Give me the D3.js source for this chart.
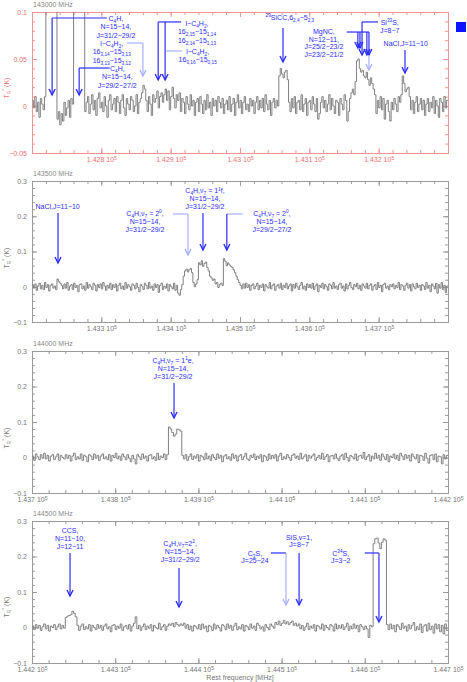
<!DOCTYPE html>
<html>
<head>
<meta charset="utf-8">
<script src="https://cdn.jsdelivr.net/npm/d3@7"></script>
<style>
  body { margin: 0; background: #fff; }
  svg { display: block; font-family: "Liberation Sans", Arial, sans-serif; }
</style>
</head>
<body>
<svg id="chart"></svg>
<script>
// channel width of all spectra (MHz), values in mK
const chanWidth = 2

const spec1Start = 142700
const spec1 = [
  6, -2, 10, -6, 4, -12, 8, 2, -4, 10, 410, 430, 380, 400, 390, 420, 400, 430, -14, -6,
  -20, -8, -16, 4, -10, -2, 6, -12, 8, 2, 390, 410, 370, 380, 400, 380, 410, 420, -6, 4,
  10, -8, 2, 12, -4, 6, -10, 8, 14, -2, 4, -6, 10, 0, -12, 6, 12, -4, 2, 8,
  -6, 10, 4, -8, 6, 12, -2, -10, 8, 2, -4, 10, 6, -6, 0, 12, -8, 4, 8, 14,
  22, 18, 6, -6, 10, 2, -10, 12, 4, 8, 16, -2, 10, 14, 4, 12, 18, 6, 16, -4,
  10, 20, 8, -2, 12, 6, 14, -6, 8, 4, -8, 10, 2, -4, 12, 0, 6, -10, 4, 8,
  -6, 10, 2, -8, 6, -4, 12, -2, 4, -10, 8, 0, 6, -6, 10, 4, -2, 8, -8, 2,
  6, -4, 10, -6, 2, 8, -10, 4, 12, -2, 6, -8, 4, 10, -4, 2, -6, 8, 0, 6,
  -8, 4, 10, -4, 6, -2, 8, -6, 12, 2, -4, 6, -10, 4, 8, -2, 6, 0, 32, 40,
  34, 30, 36, 38, 28, 4, -6, 8, -2, 10, -8, 4, 6, -4, 12, -6, 2, 8, -10, 4,
  6, -4, 10, 2, -6, 8, -14, -8, 4, 10, -2, 6, -6, 2, 12, -4, 8, 0, -8, 6,
  4, -10, 8, 2, -4, 12, 6, -16, -6, 8, 14, 18, 12, 26, 48, 50, 40, 36, 38, 32,
  30, 36, 28, 22, 30, 24, 18, 12, -8, 6, -2, 10, -4, 8, -14, 2, 6, -6, -16, 4,
  -4, 8, 2, -6, 10, 4, 12, 32, 24, 15, 18, 20, 10, -4, 6, -8, 4, 10, -6, 2,
  8, -4, 6, -10, 2, 8, -6, 4, -2, 10, -8, 6, 0, -12, 8, 4, -6, 10, -2, 6
]

const spec2Start = 143200
const spec2 = [
  6, -4, 8, -10, 2, 10, -6, 4, -8, 12, -2, 6, -12, 4, 8, -4, 2, -8, 22, 14,
  10, 4, -6, 8, -4, 12, -10, 2, 6, -8, 10, -2, 4, -14, 6, 8, -6, 2, -10, 12,
  -4, 6, 0, -8, 10, 4, -12, 6, -2, 8, -6, 12, 2, -10, 4, -4, 10, -8, 6, -2,
  8, -12, 4, 10, -6, 2, -8, 12, -4, 6, 0, -10, 8, 4, -6, 10, -2, -14, 6, 2,
  -8, 10, 4, -6, 12, -4, 2, -10, 8, -2, 6, -16, 4, 10, -8, 2, -4, 8, -12, 6,
  0, -6, 10, -10, 4, -18, -24, -8, 6, 30, 45, 50, 42, 48, 52, 40, 12, 0, 8, 20,
  68, 62, 74, 58, 66, 70, 55, 45, 30, 25, 18, 22, 8, 12, -2, 6, 10, 4, 80, 72,
  60, 68, 62, 58, 55, 48, 40, 30, 20, 12, 4, -6, 8, -4, 10, -2, 6, -10, 4, 8,
  -6, 2, 10, -8, 4, -2, 8, -12, 6, 0, -4, 12, -6, 4, 8, -10, 2, 6, -4, 10,
  -8, 4, -2, 10, -6, 2, 8, -12, 6, -4, 10, 0, -8, 4, 12, -6, 2, -10, 8, -2,
  6, -4, 10, -8, 2, 8, -14, 4, -2, 10, -6, 6, 0, -10, 8, 4, -6, 12, -4, 2,
  -8, 6, 10, -4, 2, -12, 8, -6, 4, 12, -2, -8, 6, 0, 10, -6, 4, -10, 8, 2,
  -4, 10, -6, 4, 8, -10, 2, 6, -8, 12, -2, 4, -14, 6, 10, -4, 2, -8, 6, 0,
  8, -6, 4, -2, 12, -8, 6, 2, -10, 4, 10, -4, 6, -12, 8, 0, -6, 10, -2, 4,
  -10, 6, 2, -8, 12, -4, 4, -14, 8, 2, -6, 10, -18, 6, -4, 12, -8, 4, -16, 2
]

const spec3Start = 143700
const spec3 = [
  4, -8, 10, 2, -6, 8, -2, 12, -4, 6, -10, 4, 8, -6, 2, 10, -8, 6, 0, -4,
  8, -2, 6, -10, 4, 12, -6, 2, -4, 10, -8, 6, 2, -12, 8, 4, -6, 10, -2, 6,
  -8, 4, 10, -4, 2, -6, 8, -10, 6, 0, 12, -4, 4, -8, 10, 2, -6, 8, -2, -12,
  6, -4, -18, 8, 2, -6, 10, -2, 4, -10, 6, 8, -4, 2, -8, 12, -6, 4, 0, 10,
  -6, 8, 86, 80, 70, 60, 66, 80, 78, 74, 6, -4, 8, -8, 2, 10, -6, 4, -2, 8,
  -10, 6, 2, -6, 12, -4, 4, -8, 8, 0, -6, 10, -2, 6, -12, 4, 8, -4, 2, -8,
  10, -2, 6, -10, 4, 8, -6, 2, 12, -4, -8, 6, 0, 10, -6, 4, -2, 8, -12, 6,
  2, -8, 10, -4, 6, -2, 8, -10, 4, 12, -6, 2, -4, 8, 0, -8, 6, 10, -2, 4,
  -6, 12, -4, 2, 8, -10, 6, -2, 4, 10, -8, 0, 6, -4, 12, -6, 2, 8, -12, 4,
  6, -4, 10, -2, -8, 4, 8, -6, 12, 0, -10, 6, 2, -4, 10, -8, 4, 6, -2, 14,
  -6, 2, 8, -10, 4, -4, 12, -2, 6, -8, 10, 2, -6, 8, -12, 4, 0, 10, -4, 6,
  -8, 12, 4, -6, 8, -2, 6, -10, 10, 2, -4, 8, -14, 6, 4, -8, 12, -2, -16, 6,
  8, -6, 10, -12, 4, 2, -18, 8, -4, 6
]

const spec4Start = 144200
const spec4 = [
  4, -6, 8, -2, 6, -8, 2, 10, -4, 6, -10, 4, 0, 8, -6, 2, 10, -4, 6, -2,
  28, 32, 34, 36, 46, 40, 30, 6, -8, 4, 10, -6, 2, -4, 8, -10, 6, 0, -6, 8,
  -2, 6, -8, 4, 10, -4, 2, -12, 6, 8, -6, 4, -2, 10, -8, 2, 6, -4, 8, -10,
  4, 12, 30, -4, 6, -8, 2, 10, -6, 4, -2, 8, -10, 6, 0, -4, 12, -6, 2, 8,
  -8, 4, 10, 6, 12, 2, 14, 8, 4, 10, 6, 12, -2, 8, -6, 4, -10, 6, 2, -4,
  8, -6, 10, -2, 4, -12, 6, 2, -8, 10, -4, 6, 0, -10, 8, 4, -6, 10, -2, 6,
  -8, 4, 12, -6, 2, -4, 8, -10, 6, 2, -6, 10, -2, 4, -8, 12, 6, -4, 2, -10,
  8, 0, -6, 10, 4, -2, 14, 8, 18, 6, 12, 20, 10, 16, 8, 14, 18, 6, 12, 4,
  10, -4, 6, -8, 2, 12, -6, 4, -2, 8, -10, 6, 2, -4, 10, -8, 6, 0, -6, 8,
  4, -10, 10, -4, 6, -2, 8, -6, 2, 12, -8, 4, -4, 10, -2, 6, -12, 8, 2, -6,
  4, -4, -28, 6, 2, 236, 250, 252, 238, 222, 240, 250, 246, 8, -6, 10, -4, 6, -12, 8,
  2, -6, 12, -2, 4, -10, 8, -4, 6, 14, -8, 2, -6, 10, -14, 4, 8, -10, 12, -6,
  4, -16, 10, -4, 8, -12, 6, -18, 10, -8
]

// panel headers and axis ticks
const panelTitles = ['143000 MHz', '143500 MHz', '144000 MHz', '144500 MHz']
const xTicks1 = [142800, 142900, 143000, 143100, 143200]
const xTicks2 = [143300, 143400, 143500, 143600, 143700]
const xTicks3 = [143700, 143800, 143900, 144000, 144100, 144200]
const xTicks4 = [144200, 144300, 144400, 144500, 144600, 144700]
const yTicks1 = [-0.05, 0, 0.05, 0.1]
const yTicks = [-0.1, 0, 0.1, 0.2, 0.3]

// line identifications: text, label anchor [MHz, K], leaders [f0, f1, K, light], arrows [f, K from, K to, light]
const lines1 = [
  { text: ['C_{4}H,', 'N=15−14,', 'J=31/2−29/2'], at: [142821, 0.0904],
    lead: [[142729, 142808, 0.0936]], arrows: [[142729, 0.0936, 0.0117]] },
  { text: ['l−C_{4}H_{2},', '16_{3,14}−15_{3,13}', '16_{3,13}−15_{3,12}'], at: [142815, 0.0638],
    lead: [[142837, 142860, 0.067, 1]], arrows: [[142860, 0.067, 0.0319, 1]] },
  { text: ['C_{4}H,', 'N=15−14,', 'J=29/2−27/2'], at: [142823, 0.0372],
    lead: [[142768, 142812, 0.0404]], arrows: [[142768, 0.0404, 0.0117]] },
  { text: ['l−C_{4}H_{2},', '16_{2,15}−15_{1,14}', '16_{2,14}−15_{1,13}'], at: [142938, 0.0851],
    lead: [[142882, 142915, 0.0894]], arrows: [[142882, 0.0894, 0.0277], [142892, 0.0894, 0.0277]] },
  { text: ['l−C_{4}H_{2},', '16_{0,16}−15_{0,15}'], at: [142939, 0.0553],
    lead: [[142893, 142916, 0.0585, 1]], arrows: [] },
  { text: ['^{29}SiCC,6_{2,4}−5_{2,3}'], at: [143072, 0.0915],
    lead: [], arrows: [[143062, 0.083, 0.0468]] },
  { text: ['MgNC,', 'N=12−11,', 'J=25/2−23/2', 'J=23/2−21/2'], at: [143121, 0.0765], lh: 7.6,
    lead: [[143154, 143186, 0.0787]],
    arrows: [[143170, 0.0787, 0.0617], [143173, 0.0787, 0.0617], [143183, 0.0787, 0.0543], [143186, 0.0787, 0.0543]] },
  { text: ['Si^{33}S,', 'J=8−7'], at: [143216, 0.0862],
    lead: [[143176, 143199, 0.0894]], arrows: [[143176, 0.0894, 0.0543], [143186, 0.0543, 0.0383, 1]] },
  { text: ['NaCl,J=11−10'], at: [143239, 0.0638],
    lead: [], arrows: [[143238, 0.0596, 0.0351]] }
]
const lines2 = [
  { text: ['NaCl,J=11−10'], at: [143237, 0.2206], lead: [], arrows: [[143237.5, 0.2092, 0.0674]] },
  { text: ['C_{4}H,ν_{7} = 2^{0},', 'N=15−14,', 'J=31/2−29/2'], at: [143363, 0.1995],
    lead: [[143403, 143425, 0.2064, 1]], arrows: [[143425, 0.2064, 0.0901, 1]] },
  { text: ['C_{4}H,ν_{7} = 1^{1}f,', 'N=15−14,', 'J=31/2−29/2'], at: [143449.5, 0.2647],
    lead: [], arrows: [[143446.6, 0.2092, 0.1043]] },
  { text: ['C_{4}H,ν_{7} = 2^{0},', 'N=15−14,', 'J=29/2−27/2'], at: [143546, 0.1995],
    lead: [[143481, 143504, 0.2064, 1]], arrows: [[143481, 0.2064, 0.1043]] }
]
const lines3 = [
  { text: ['C_{4}H,ν_{7} = 1^{1}e,', 'N=15−14,', 'J=31/2−29/2'], at: [143869.5, 0.265],
    lead: [], arrows: [[143870.7, 0.2099, 0.1113]] }
]
const lines4 = [
  { text: ['CCS,', 'N=11−10,', 'J=12−11'], at: [144245.7, 0.265], lead: [], arrows: [[144245.7, 0.2099, 0.0887]] },
  { text: ['C_{4}H,ν_{7}=2^{2},', 'N=15−14,', 'J=31/2−29/2'], at: [144378, 0.2284], lead: [], arrows: [[144376.7, 0.1676, 0.0577]] },
  { text: ['C_{3}S,', 'J=25−24'], at: [144468, 0.2025],
    lead: [[144487, 144505.3, 0.2099]], arrows: [[144505.3, 0.2099, 0.0634, 1]] },
  { text: ['SiS,v=1,', 'J=8−7'], at: [144521, 0.2475], lead: [], arrows: [[144521, 0.2099, 0.0634]] },
  { text: ['C^{34}S,', 'J=3−2'], at: [144571, 0.2025],
    lead: [[144600, 144617, 0.2099]], arrows: [[144617, 0.2099, 0.0155]] }
]

const width = 467
const height = 682
const left = 32
const right = 448
const blue = '#2c2cff'
const lightBlue = '#a9b0ff'
const fs = 7

const panels = [
  { top: 12, bottom: 153, start: spec1Start, vals: spec1, xDom: [142700, 143300], yDom: [-0.05, 0.1],
    xTicks: xTicks1, yTicks: yTicks1, yMinor: 0.01, axis: '#f29292', label: '#ee7070', ids: lines1, lh: 8.4, yl: 88 },
  { top: 181, bottom: 322, start: spec2Start, vals: spec2, xDom: [143200, 143800], yDom: [-0.1, 0.3],
    xTicks: xTicks2, yTicks: yTicks, yMinor: 0.02, axis: '#9a9a9a', label: '#777', ids: lines2, lh: 7.8, yl: 258 },
  { top: 351, bottom: 493, start: spec3Start, vals: spec3, xDom: [143700, 144200], yDom: [-0.1, 0.3],
    xTicks: xTicks3, yTicks: yTicks, yMinor: 0.02, axis: '#9a9a9a', label: '#777', ids: lines3, lh: 7.8, yl: 438 },
  { top: 521, bottom: 663, start: spec4Start, vals: spec4, xDom: [144200, 144700], yDom: [-0.1, 0.3],
    xTicks: xTicks4, yTicks: yTicks, yMinor: 0.02, axis: '#9a9a9a', label: '#777', ids: lines4, lh: 7.8, yl: 607 }
]

const svg = d3.select('#chart')
  .attr('width', width)
  .attr('height', height)

// text with _{sub} and ^{sup} markup
function rich(t, str, size) {
  const re = /([_^])\{([^}]*)\}/g
  const parts = []
  let last = 0, m
  while ((m = re.exec(str))) {
    if (m.index > last) parts.push({ t: str.slice(last, m.index), s: 0 })
    parts.push({ t: m[2], s: m[1] === '_' ? 1 : -1 })
    last = re.lastIndex
  }
  if (last < str.length) parts.push({ t: str.slice(last), s: 0 })
  let cur = 0
  parts.forEach(p => {
    const off = p.s > 0 ? size * 0.28 : p.s < 0 ? -size * 0.42 : 0
    t.append('tspan')
      .attr('dy', off - cur)
      .attr('font-size', p.s ? size * 0.68 : size)
      .text(p.t)
    cur = off
  })
}

const fmtY = d => String(d).replace('-', '−')

panels.forEach((p, k) => {
  const x = d3.scaleLinear().domain(p.xDom).range([left, right])
  const y = d3.scaleLinear().domain(p.yDom).range([p.bottom, p.top])

  const xMinor = d3.range(p.xDom[0], p.xDom[1] + 1, 20)
  const n = Math.round((p.yDom[1] - p.yDom[0]) / p.yMinor)
  const yMinor = d3.range(n + 1).map(i => p.yDom[0] + i * p.yMinor)

  const style = (g) => {
    g.select('.domain').remove()
    g.selectAll('line').attr('stroke', p.axis)
    g.selectAll('text').attr('fill', p.label).attr('font-size', 7).attr('font-family', null)
  }

  svg.append('g').attr('transform', `translate(0,${p.bottom})`)
    .call(d3.axisBottom(x).tickValues(xMinor).tickSize(-3).tickFormat('')).call(style)
  svg.append('g').attr('transform', `translate(0,${p.top})`)
    .call(d3.axisTop(x).tickValues(xMinor).tickSize(-3).tickFormat('')).call(style)
  svg.append('g').attr('transform', `translate(0,${p.top})`)
    .call(d3.axisTop(x).tickValues(p.xTicks).tickSize(-5).tickFormat('')).call(style)
  const xa = svg.append('g').attr('transform', `translate(0,${p.bottom})`)
    .call(d3.axisBottom(x).tickValues(p.xTicks).tickSize(-5).tickPadding(4)).call(style)
  xa.selectAll('.tick text').each(function(d) {
    const t = d3.select(this)
    t.text(null)
    t.append('tspan').text(String(d / 1e5) + ' 10')
    t.append('tspan').attr('dy', '-0.45em').attr('font-size', 5).text('5')
  })

  svg.append('g').attr('transform', `translate(${left},0)`)
    .call(d3.axisLeft(y).tickValues(yMinor).tickSize(-3).tickFormat('')).call(style)
  svg.append('g').attr('transform', `translate(${right},0)`)
    .call(d3.axisRight(y).tickValues(yMinor).tickSize(-3).tickFormat('')).call(style)
  svg.append('g').attr('transform', `translate(${right},0)`)
    .call(d3.axisRight(y).tickValues(p.yTicks).tickSize(-5).tickFormat('')).call(style)
  svg.append('g').attr('transform', `translate(${left},0)`)
    .call(d3.axisLeft(y).tickValues(p.yTicks).tickSize(-5).tickPadding(5).tickFormat(fmtY)).call(style)

  svg.append('rect')
    .attr('x', left + 0.5).attr('y', p.top + 0.5)
    .attr('width', right - left).attr('height', p.bottom - p.top)
    .attr('fill', 'none').attr('stroke', p.axis)

  // spectrum
  svg.append('clipPath').attr('id', 'clip' + k)
    .append('rect')
    .attr('x', left).attr('y', p.top)
    .attr('width', right - left).attr('height', p.bottom - p.top)

  const pts = p.vals.map((v, i) => [p.start + i * chanWidth, v / 1000])
  pts.push([p.start + p.vals.length * chanWidth, p.vals[p.vals.length - 1] / 1000])

  svg.append('path')
    .datum(pts)
    .attr('clip-path', `url(#clip${k})`)
    .attr('d', d3.line().x(d => x(d[0])).y(d => y(d[1])).curve(d3.curveStepAfter))
    .attr('fill', 'none')
    .attr('stroke', '#808080')
    .attr('stroke-width', 1)

  // header and y label
  svg.append('text')
    .attr('x', left + 1).attr('y', p.top - 5)
    .attr('font-size', 7).attr('fill', '#888')
    .text(panelTitles[k])

  const yl = svg.append('text')
    .attr('transform', `translate(9,${p.yl}) rotate(-90)`)
    .attr('text-anchor', 'middle')
    .attr('font-size', 7).attr('fill', p.label)
  rich(yl, 'T_{R}^{*} (K)', 7)

  // identifications
  const ga = svg.append('g')
  p.ids.forEach(a => {
    const lh = a.lh || p.lh
    a.text.forEach((s, j) => {
      const t = ga.append('text')
        .attr('x', x(a.at[0])).attr('y', y(a.at[1]) + j * lh)
        .attr('text-anchor', 'middle')
        .attr('fill', blue)
        .attr('font-size', fs)
      rich(t, s, fs)
    })
    a.lead.forEach(([f0, f1, v, light]) => {
      ga.append('line')
        .attr('x1', x(f0)).attr('x2', x(f1))
        .attr('y1', y(v)).attr('y2', y(v))
        .attr('stroke', light ? lightBlue : blue)
        .attr('stroke-width', 1.2)
    })
    a.arrows.forEach(([f, v0, v1, light]) => {
      const c = light ? lightBlue : blue
      const ax = x(f), ay = y(v1)
      ga.append('line')
        .attr('x1', ax).attr('x2', ax)
        .attr('y1', y(v0)).attr('y2', ay)
        .attr('stroke', c).attr('stroke-width', 1.2)
      ga.append('path')
        .attr('d', `M${ax - 3},${ay - 6}L${ax},${ay}L${ax + 3},${ay - 6}`)
        .attr('fill', 'none').attr('stroke', c).attr('stroke-width', 1.4)
    })
  })
})

svg.append('text')
  .attr('x', (left + right) / 2).attr('y', 680)
  .attr('text-anchor', 'middle')
  .attr('font-size', 7).attr('fill', '#777')
  .text('Rest frequency [MHz]')

svg.append('rect')
  .attr('x', 456).attr('y', 22)
  .attr('width', 10).attr('height', 10)
  .attr('fill', '#0c14ff')
</script>
</body>
</html>
